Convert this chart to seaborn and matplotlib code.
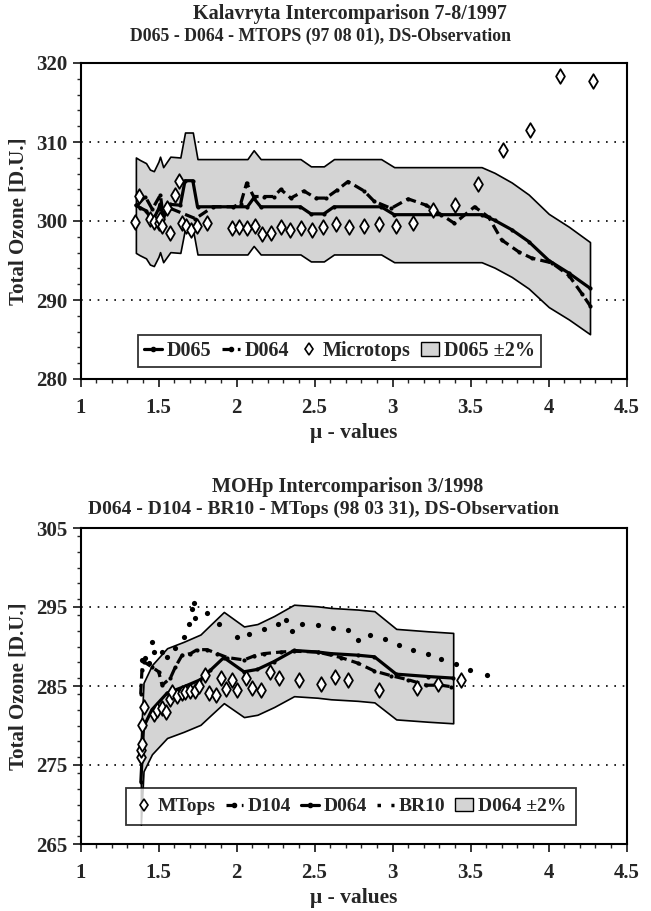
import matplotlib
matplotlib.use("Agg")
import matplotlib.pyplot as plt
from matplotlib.lines import Line2D
from matplotlib.patches import Patch
from matplotlib.ticker import MultipleLocator
import numpy as np
import seaborn as sns

# ---- Kalavryta 7-8/1997 (top panel) ----
top_d065_mu = [1.355, 1.38, 1.42, 1.445, 1.47, 1.50, 1.51, 1.53, 1.576, 1.64, 1.67, 1.72,
               1.75, 2.07, 2.11, 2.155, 2.41, 2.477, 2.56, 2.625, 2.927, 3.011, 3.571,
               3.654, 3.764, 3.873, 4.002, 4.131, 4.266]
top_d065_oz = [302.0, 301.7, 301.3, 300.5, 300.3, 301.5, 302.1, 300.8, 302.1, 302.0, 305.1, 305.1,
               301.8, 301.8, 302.9, 301.8, 301.8, 300.9, 300.9, 301.8, 301.8, 300.8, 300.8,
               300.1, 298.9, 297.4, 295.0, 293.4, 291.5]

top_d064_mu = [1.364, 1.415, 1.46, 1.512, 1.531, 1.576, 1.737, 1.85, 1.98, 2.027, 2.065, 2.11,
               2.174, 2.239, 2.284, 2.348, 2.432, 2.509, 2.573, 2.644, 2.715, 2.818, 2.882,
               2.991, 3.10, 3.216, 3.313, 3.397, 3.526, 3.616, 3.70, 3.809, 3.893, 4.021,
               4.131, 4.214, 4.266]
top_d064_oz = [302.0, 303.1, 301.5, 303.3, 300.5, 301.6, 300.3, 301.8, 301.8, 302.2, 304.8, 303.1,
               303.1, 303.1, 304.0, 302.9, 303.8, 302.9, 302.9, 303.9, 305.0, 303.8, 302.5,
               301.6, 302.8, 302.0, 300.8, 299.7, 301.8, 300.5, 297.6, 296.1, 295.3, 294.7,
               293.1, 290.8, 289.3]

top_mtops_mu = [1.351, 1.372, 1.447, 1.468, 1.501, 1.512, 1.523, 1.555, 1.576, 1.608, 1.629,
                1.651, 1.679, 1.709, 1.748, 1.808, 1.973, 2.015, 2.069, 2.116, 2.166, 2.219,
                2.284, 2.344, 2.412, 2.481, 2.552, 2.638, 2.723, 2.816, 2.916, 3.024, 3.131,
                3.260, 3.399, 3.545, 3.710, 3.882, 4.075, 4.283]
top_mtops_oz = [299.9, 303.2, 300.3, 299.9, 299.7, 300.3, 299.4, 301.7, 298.5, 303.3, 305.1,
                299.7, 299.4, 298.9, 299.4, 299.7, 299.1, 299.2, 299.1, 299.4, 298.4, 298.5,
                299.2, 298.9, 299.1, 298.8, 299.2, 299.6, 299.3, 299.4, 299.6, 299.4, 299.8,
                301.4, 302.0, 304.7, 309.0, 311.5, 318.3, 317.7]

# ---- MOHp 3/1998 (bottom panel) ----
bot_d064_mu = [1.387, 1.404, 1.458, 1.555, 1.662, 1.769, 1.833, 1.919, 2.048, 2.134, 2.241,
               2.369, 2.52, 2.606, 2.777, 2.884, 3.024, 3.228, 3.389]
bot_d064_oz = [272.9, 279.8, 282.0, 284.1, 284.9, 285.8, 287.0, 288.6, 286.8, 287.1, 288.1,
               289.5, 289.3, 289.1, 288.9, 288.7, 286.5, 286.2, 286.0]

bot_d104_mu = [1.386, 1.394, 1.404, 1.458, 1.501, 1.523, 1.576, 1.608, 1.651, 1.705, 1.748,
               1.812, 1.876, 1.941, 2.048, 2.112, 2.176, 2.284, 2.369, 2.52, 2.67, 2.777,
               2.884, 2.992, 3.099, 3.217, 3.313, 3.378]
bot_d104_oz = [284.0, 287.0, 288.1, 287.4, 286.8, 285.1, 286.0, 287.4, 288.9, 289.1, 289.6,
               289.6, 289.1, 288.6, 288.3, 288.8, 289.1, 289.3, 289.4, 289.3, 288.6, 287.9,
               286.9, 286.3, 285.8, 285.1, 285.1, 284.9]

bot_br10_mu = [1.394, 1.415, 1.438, 1.458, 1.47, 1.523, 1.555, 1.608, 1.662, 1.694, 1.716,
               1.726, 1.737, 1.812, 1.887, 2.005, 2.08, 2.176, 2.263, 2.316, 2.355, 2.423,
               2.52, 2.616, 2.713, 2.777, 2.857, 2.949, 3.043, 3.131, 3.228, 3.313, 3.41,
               3.495, 3.603]
bot_br10_oz = [288.3, 288.5, 287.9, 290.6, 289.3, 289.3, 288.7, 289.8, 291.2, 292.9, 294.8,
               295.5, 293.6, 294.2, 292.9, 291.2, 291.6, 292.2, 292.9, 293.3, 291.9, 292.9,
               292.7, 292.4, 292.1, 290.8, 291.5, 290.9, 290.2, 289.6, 289.0, 288.4, 287.8,
               287.0, 286.4]

bot_mtops_mu = [1.387, 1.389, 1.394, 1.396, 1.404, 1.468, 1.49, 1.523, 1.55, 1.576, 1.587,
                1.619, 1.651, 1.672, 1.705, 1.737, 1.758, 1.801, 1.822, 1.866, 1.898, 1.93,
                1.973, 2.005, 2.059, 2.102, 2.155, 2.215, 2.273, 2.402, 2.543, 2.631, 2.717,
                2.916, 3.159, 3.292, 3.442]
bot_mtops_oz = [276.0, 276.9, 277.7, 280.1, 282.4, 281.5, 282.0, 282.2, 281.7, 283.4, 284.3,
                283.7, 284.1, 284.3, 284.4, 284.4, 285.0, 286.4, 284.1, 283.9, 286.0, 284.6,
                285.7, 284.5, 286.0, 284.7, 284.5, 286.8, 286.0, 285.8, 285.3, 286.1, 285.7,
                284.5, 284.7, 285.2, 285.8]

BAND = "#d4d4d4"
FONT = ["Liberation Serif", "DejaVu Serif"]
DASH = (0, (3.2, 1.6))


def draw_band(ax, mu, oz):
    lo = [v * 0.98 for v in oz]
    hi = [v * 1.02 for v in oz]
    ax.fill_between(mu, lo, hi, facecolor=BAND, edgecolor="black", linewidth=1.2, zorder=1)


def draw_line(ax, mu, oz, dashed=False):
    kw = dict(color="black", linewidth=2.3, marker="o", markersize=3,
              markeredgewidth=0, sort=False, estimator=None, zorder=3, ax=ax)
    if dashed:
        kw["linestyle"] = DASH
    sns.lineplot(x=mu, y=oz, **kw)


def draw_diamonds(ax, mu, oz):
    sns.scatterplot(x=mu, y=oz, marker="d", s=55, facecolor="white",
                    edgecolor="black", linewidth=1.3, zorder=5, ax=ax)


def style_axes(ax, lo, hi, grid):
    ax.set_xlim(1, 4.5)
    ax.set_ylim(lo, hi)
    ax.xaxis.set_major_locator(MultipleLocator(0.5))
    ax.xaxis.set_minor_locator(MultipleLocator(0.1))
    ax.set_yticks(np.arange(lo, hi + 1, 10))
    ax.yaxis.set_minor_locator(MultipleLocator(2))
    ax.set_xticklabels([f"{v:g}" for v in ax.get_xticks()])
    ax.tick_params(which="major", direction="out", length=6, width=1.3, labelsize=15)
    ax.tick_params(axis="x", which="major", pad=8)
    ax.tick_params(which="minor", direction="out", length=3, width=1.0)
    for lab in ax.get_xticklabels() + ax.get_yticklabels():
        lab.set_fontweight("bold")
    for s in ax.spines.values():
        s.set_visible(True)
        s.set_linewidth(1.5)
        s.set_color("black")
    for g in grid:
        ax.axhline(g, color="black", linestyle=(0, (1, 4)), linewidth=1.2, zorder=0)
    ax.set_xlabel("\u03bc - values", fontsize=15.5, fontweight="bold")
    ax.set_ylabel("Total Ozone [D.U.]", fontsize=15, fontweight="bold")
    ax.xaxis.set_label_coords(0.5, -0.14)
    ax.yaxis.set_label_coords(-0.095, 0.5)


def legend_box(ax, handles, labels, anchor, pad, size):
    leg = ax.legend(handles, labels, loc="lower left", bbox_to_anchor=anchor, ncol=len(labels),
                    frameon=True, fancybox=False, handlelength=0.9, handletextpad=0.25,
                    columnspacing=0.5, borderpad=pad, borderaxespad=0,
                    prop={"weight": "bold", "size": size})
    leg.get_frame().set_edgecolor("black")
    leg.get_frame().set_linewidth(1.3)
    leg.set_zorder(10)


def main():
    sns.set_style("ticks")
    plt.rcParams["font.family"] = FONT

    fig = plt.figure(figsize=(6.51, 9.11), dpi=100)
    W, H = 651, 911
    ax1 = fig.add_axes([80.5 / W, 1 - 379 / H, 546 / W, 316 / H])
    ax2 = fig.add_axes([80.5 / W, 1 - 844 / H, 546 / W, 316 / H])

    # top panel
    draw_band(ax1, top_d065_mu, top_d065_oz)
    draw_line(ax1, top_d065_mu, top_d065_oz)
    draw_line(ax1, top_d064_mu, top_d064_oz, dashed=True)
    draw_diamonds(ax1, top_mtops_mu, top_mtops_oz)
    style_axes(ax1, 280, 320, [290, 300, 310])

    h_solid = Line2D([], [], color="black", lw=2.3, marker="o", ms=3)
    h_dash = Line2D([], [], color="black", lw=2.3, ls=DASH, marker="o", ms=3)
    h_dia = Line2D([], [], ls="none", marker="d", ms=6, mfc="white", mec="black", mew=1.2)
    h_dots = Line2D([], [], ls=(0, (1, 3)), lw=2.5, color="black")
    h_band = Patch(facecolor=BAND, edgecolor="black", linewidth=1.0)
    legend_box(ax1, [h_solid, h_dash, h_dia, h_band],
               ["D065", "D064", "Microtops", "D065 \u00b12%"], (0.105, 0.038), 0.3, 14.5)

    # bottom panel
    draw_band(ax2, bot_d064_mu, bot_d064_oz)
    draw_line(ax2, bot_d064_mu, bot_d064_oz)
    draw_line(ax2, bot_d104_mu, bot_d104_oz, dashed=True)
    sns.scatterplot(x=bot_br10_mu, y=bot_br10_oz, marker="o", s=14, color="black",
                    linewidth=0, zorder=4, ax=ax2)
    draw_diamonds(ax2, bot_mtops_mu, bot_mtops_oz)
    style_axes(ax2, 265, 305, [275, 285, 295])
    legend_box(ax2, [h_dia, h_dash, h_solid, h_dots, h_band],
               ["MTops", "D104", "D064", "BR10", "D064 \u00b12%"], (0.083, 0.06), 0.5, 14)

    fig.text(350 / W, 1 - 14 / H, "Kalavryta Intercomparison 7-8/1997", ha="center", va="center",
             fontsize=14.5, fontweight="bold")
    fig.text(320 / W, 1 - 36 / H, "D065 - D064 - MTOPS (97 08 01), DS-Observation", ha="center",
             va="center", fontsize=12.8, fontweight="bold")
    fig.text(348 / W, 1 - 487 / H, "MOHp Intercomparison 3/1998", ha="center", va="center",
             fontsize=14.5, fontweight="bold")
    fig.text(323 / W, 1 - 509 / H, "D064 - D104 - BR10 - MTops (98 03 31), DS-Observation",
             ha="center", va="center", fontsize=14, fontweight="bold")

    fig.savefig("out.png", dpi=100)


if __name__ == "__main__":
    main()
